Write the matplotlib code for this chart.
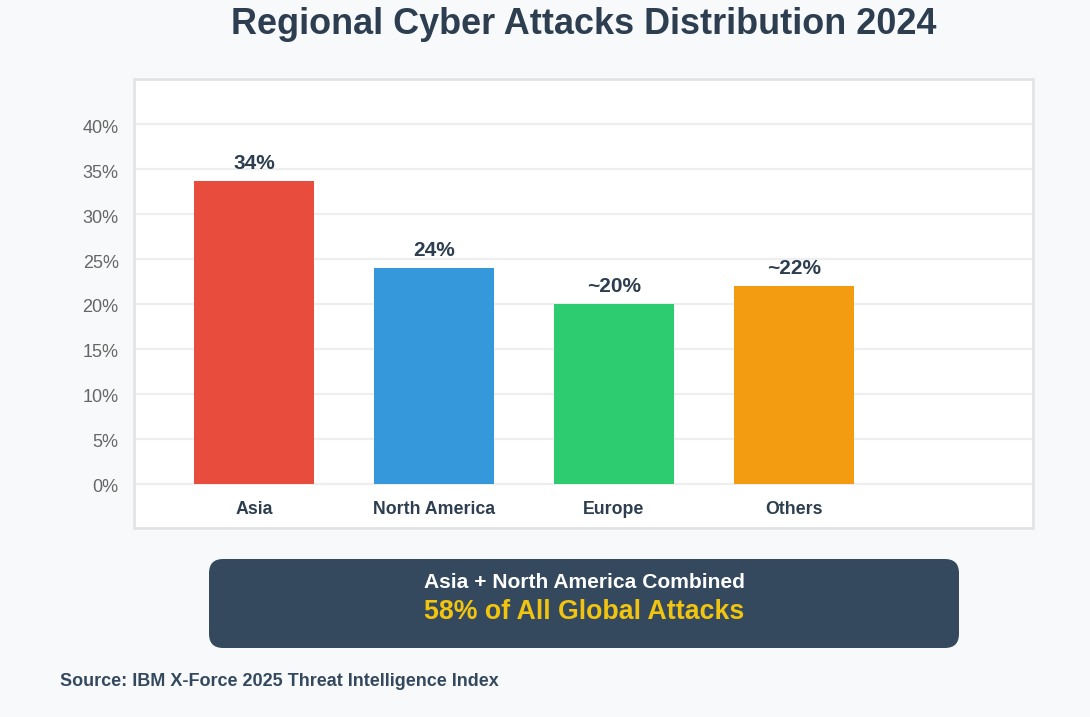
import matplotlib
matplotlib.use("Agg")
import matplotlib.pyplot as plt
from matplotlib.patches import FancyBboxPatch
from matplotlib.transforms import ScaledTranslation

plt.rcParams['font.family'] = ['Liberation Sans', 'DejaVu Sans']

# data
regions = ["Asia", "North America", "Europe", "Others"]
shares = [33.7, 24, 20, 22]
share_labels = ["34%", "24%", "~20%", "~22%"]
bar_colors = ["#e74c3c", "#3498db", "#2ecc71", "#f39c12"]
y_ticks = [0, 5, 10, 15, 20, 25, 30, 35, 40]

title = "Regional Cyber Attacks Distribution 2024"
callout_top = "Asia + North America Combined"
callout_main = "58% of All Global Attacks"
source = "Source: IBM X-Force 2025 Threat Intelligence Index"

W, H = 1090, 717
fig = plt.figure(figsize=(W / 100, H / 100), dpi=100, facecolor="#f8f9fa")

def fx(px):
    return px / W

def fy(py):
    return 1 - py / H

# white chart panel
box_l, box_t, box_r, box_b = 134, 79, 1033, 528
ax = fig.add_axes([fx(box_l), fy(box_b), fx(box_r - box_l), (box_b - box_t) / H])
ax.set_facecolor("white")
for sp in ax.spines.values():
    sp.set_color("#e2e4e6")
    sp.set_linewidth(2)

x = list(range(len(regions)))
ax.bar(x, shares, width=0.667, color=bar_colors, zorder=2)
ax.set_xlim(-0.667, 4.328)
ax.set_ylim(-4.95, 45.05)
ax.set_yticks(y_ticks)
ax.set_yticklabels([f"{t}%" for t in y_ticks], fontsize=13, color="#666666")
ax.tick_params(axis="y", length=0, pad=11)
# tick labels sit a couple of pixels below their gridlines
shift = ScaledTranslation(0, -2 / 100, fig.dpi_scale_trans)
for lbl in ax.get_yticklabels():
    lbl.set_transform(lbl.get_transform() + shift)
ax.set_xticks([])
ax.grid(axis="y", color="#eeeeee", linewidth=1.6, zorder=0)
ax.set_axisbelow(True)

for xi, v, lab in zip(x, shares, share_labels):
    ax.annotate(lab, (xi, v), xytext=(0, 6), textcoords="offset points",
                ha="center", va="bottom", fontsize=15, fontweight="bold",
                color="#2c3e50")

for xi, name in zip(x, regions):
    ax.text(xi, -2.85, name, ha="center", va="center", fontsize=12.8,
            fontweight="bold", color="#2c3e50")

# title
fig.text(fx(584), fy(25), title, ha="center", va="center", fontsize=25.9,
         fontweight="bold", color="#2c3e50")

# callout box
cb_l, cb_t, cb_r, cb_b = 209, 559, 959, 648
callout = FancyBboxPatch((fx(cb_l), fy(cb_b)), fx(cb_r - cb_l), (cb_b - cb_t) / H,
                         boxstyle="round,pad=0,rounding_size=0.013",
                         transform=fig.transFigure, facecolor="#34495e",
                         edgecolor="none", mutation_aspect=W / H)
fig.patches.append(callout)
fig.text(fx(584), fy(583), callout_top, ha="center", va="center", fontsize=15.1,
         fontweight="bold", color="white")
fig.text(fx(584), fy(612), callout_main, ha="center", va="center", fontsize=19.3,
         fontweight="bold", color="#f1c40f")

# source
fig.text(fx(60), fy(682), source, ha="left", va="center", fontsize=13,
         fontweight="bold", color="#34495e")

fig.savefig("out.png", dpi=100, facecolor=fig.get_facecolor())
